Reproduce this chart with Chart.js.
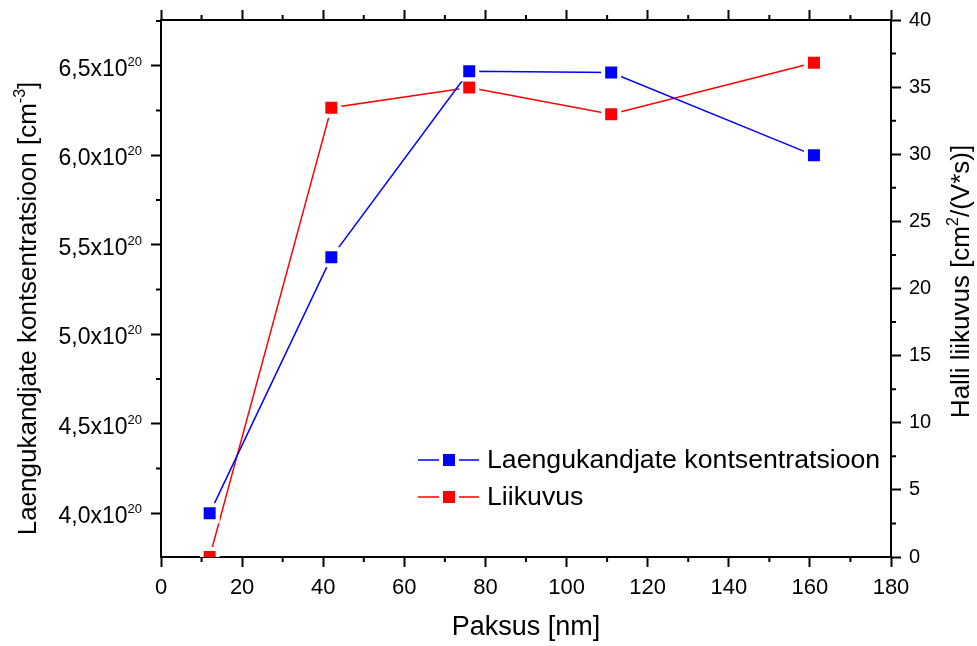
<!DOCTYPE html>
<html>
<head>
<meta charset="utf-8">
<script src="https://cdn.jsdelivr.net/npm/chart.js@4.4.1/dist/chart.umd.min.js"></script>
<style>
  html, body { margin: 0; padding: 0; background: #fff; }
  canvas { display: block; }
</style>
</head>
<body>
<canvas id="graafik" width="977" height="646"></canvas>
<script>
// mõõtmised
const paksus = [12, 42, 76, 111, 161];
const kontsentratsioon = [4.0e20, 5.43e20, 6.47e20, 6.463e20, 6.0e20];
const liikuvus = [0, 33.47, 34.97, 32.98, 36.82];

// telgede jaotised
const xTicks = [0, 20, 40, 60, 80, 100, 120, 140, 160, 180];
const xMinor = [10, 30, 50, 70, 90, 110, 130, 150, 170];
const yTicks = [4.0e20, 4.5e20, 5.0e20, 5.5e20, 6.0e20, 6.5e20];
const yMinor = [4.25e20, 4.75e20, 5.25e20, 5.75e20, 6.25e20, 6.75e20];
const y1Ticks = [0, 5, 10, 15, 20, 25, 30, 35, 40];
const y1Minor = [2.5, 7.5, 12.5, 17.5, 22.5, 27.5, 32.5, 37.5];

const FONT = 'Liberation Sans, Arial, sans-serif';

function setTicks(list) {
    return scale => { scale.ticks = list.map(v => ({ value: v })); };
}

// tekst koos astendajaga: osad [{t, sup}], joondus 'left' | 'center' | 'right'
function richWidth(ctx, parts, size, supSize) {
    let w = 0;
    parts.forEach(p => {
        ctx.font = (p.sup ? supSize : size) + 'px ' + FONT;
        w += ctx.measureText(p.t).width;
    });
    return w;
}
function drawRich(ctx, parts, x, y, align, size, supSize, rise) {
    const w = richWidth(ctx, parts, size, supSize);
    let cx = align === 'center' ? x - w / 2 : align === 'right' ? x - w : x;
    ctx.textBaseline = 'alphabetic';
    ctx.textAlign = 'left';
    parts.forEach(p => {
        ctx.font = (p.sup ? supSize : size) + 'px ' + FONT;
        ctx.fillText(p.t, cx, p.sup ? y - rise : y);
        cx += ctx.measureText(p.t).width;
    });
}

const tickGrid = {
    drawOnChartArea: false,
    drawTicks: true,
    tickLength: 10,
    tickWidth: 2,
    tickColor: '#000'
};
const axisBorder = { color: '#000', width: 2 };

// väikesed jaotised, poole pikkusega
const minorTicks = {
    id: 'minorTicks',
    afterDraw(chart) {
        const ctx = chart.ctx;
        const s = chart.scales;
        const a = chart.chartArea;
        const len = 5;
        ctx.save();
        ctx.strokeStyle = '#000';
        ctx.lineWidth = 2;
        ctx.beginPath();
        xMinor.forEach(v => {
            const px = s.x.getPixelForValue(v);
            ctx.moveTo(px, a.bottom); ctx.lineTo(px, a.bottom + len);
            ctx.moveTo(px, a.top); ctx.lineTo(px, a.top - len);
        });
        yMinor.forEach(v => {
            if (v > s.y.max || v < s.y.min) return;
            const py = s.y.getPixelForValue(v);
            ctx.moveTo(a.left, py); ctx.lineTo(a.left - len, py);
        });
        y1Minor.forEach(v => {
            const py = s.y1.getPixelForValue(v);
            ctx.moveTo(a.right, py); ctx.lineTo(a.right + len, py);
        });
        ctx.stroke();
        ctx.restore();
    }
};

// vasaku telje sildid kujul 6,5x10^20 ja mõlema y-telje pealkirjad
const axisText = {
    id: 'axisText',
    afterDraw(chart) {
        const ctx = chart.ctx;
        const a = chart.chartArea;
        const s = chart.scales;
        ctx.save();
        ctx.fillStyle = '#000';
        yTicks.forEach(v => {
            const py = s.y.getPixelForValue(v);
            const m = (v / 1e20).toFixed(1).replace('.', ',');
            drawRich(ctx, [{ t: m + 'x10' }, { t: '20', sup: true }],
                a.left - 19, py + 10, 'right', 23, 13, 10);
        });

        const mid = (a.top + a.bottom) / 2;
        ctx.save();
        ctx.translate(36, mid + 20);
        ctx.rotate(-Math.PI / 2);
        drawRich(ctx, [{ t: 'Laengukandjate kontsentratsioon [cm' }, { t: '-3', sup: true }, { t: ']' }],
            0, 0, 'center', 26, 16, 11);
        ctx.restore();

        ctx.save();
        ctx.translate(969, mid - 7);
        ctx.rotate(-Math.PI / 2);
        drawRich(ctx, [{ t: 'Halli liikuvus [cm' }, { t: '2', sup: true }, { t: '/(V*s)]' }],
            0, 0, 'center', 26, 16, 11);
        ctx.restore();
        ctx.restore();
    }
};

// legend graafiku sees, paremal all
const insideLegend = {
    id: 'insideLegend',
    afterDraw(chart) {
        const ctx = chart.ctx;
        const a = chart.chartArea;
        const x0 = a.right - 473;
        const rows = [a.bottom - 97, a.bottom - 60];
        ctx.save();
        chart.data.datasets.forEach((ds, i) => {
            const y = rows[i];
            ctx.strokeStyle = ds.borderColor;
            ctx.lineWidth = 1.5;
            ctx.beginPath();
            ctx.moveTo(x0, y); ctx.lineTo(x0 + 21, y);
            ctx.moveTo(x0 + 41, y); ctx.lineTo(x0 + 61, y);
            ctx.stroke();
            ctx.fillStyle = ds.pointBackgroundColor;
            ctx.fillRect(x0 + 25, y - 6, 12, 12);
            ctx.fillStyle = '#000';
            ctx.font = '26.7px ' + FONT;
            ctx.textBaseline = 'middle';
            ctx.textAlign = 'left';
            ctx.fillText(ds.label, x0 + 69, y + 1);
        });
        ctx.restore();
    }
};

const ctx = document.getElementById('graafik').getContext('2d');
const chart = new Chart(ctx, {
    type: 'line',
    data: {
        datasets: [{
            label: 'Laengukandjate kontsentratsioon',
            data: paksus.map((x, i) => ({ x: x, y: kontsentratsioon[i] })),
            xAxisID: 'x',
            yAxisID: 'y',
            borderColor: '#0000ff',
            borderWidth: 1.5,
            pointStyle: 'rect',
            pointRadius: 11.3,
            pointBorderWidth: 4,
            pointBorderColor: '#ffffff',
            pointBackgroundColor: '#0000ff',
            tension: 0
        }, {
            label: 'Liikuvus',
            data: paksus.map((x, i) => ({ x: x, y: liikuvus[i] })),
            xAxisID: 'x',
            yAxisID: 'y1',
            borderColor: '#ff0000',
            borderWidth: 1.5,
            pointStyle: 'rect',
            pointRadius: 11.3,
            pointBorderWidth: 4,
            pointBorderColor: '#ffffff',
            pointBackgroundColor: '#ff0000',
            tension: 0
        }]
    },
    options: {
        responsive: false,
        animation: false,
        events: [],
        layout: { padding: 0 },
        plugins: {
            legend: { display: false },
            tooltip: { enabled: false }
        },
        scales: {
            x: {
                type: 'linear',
                position: 'bottom',
                min: 0,
                max: 180,
                z: 1,
                afterBuildTicks: setTicks(xTicks),
                afterFit: s => { s.height = 89; },
                grid: tickGrid,
                border: axisBorder,
                ticks: {
                    color: '#000',
                    padding: 8,
                    maxRotation: 0,
                    font: { family: FONT, size: 22 }
                },
                title: {
                    display: true,
                    text: 'Paksus [nm]',
                    color: '#000',
                    padding: { top: 0, bottom: 2 },
                    font: { family: FONT, size: 27 }
                }
            },
            x2: {
                type: 'linear',
                position: 'top',
                min: 0,
                max: 180,
                z: 1,
                afterBuildTicks: setTicks(xTicks),
                afterFit: s => { s.height = 20; },
                grid: tickGrid,
                border: axisBorder,
                ticks: { display: false }
            },
            y: {
                type: 'linear',
                position: 'left',
                min: 3.756e20,
                max: 6.756e20,
                z: 1,
                afterBuildTicks: setTicks(yTicks),
                afterFit: s => { s.width = 161; },
                grid: tickGrid,
                border: axisBorder,
                ticks: { display: false }
            },
            y1: {
                type: 'linear',
                position: 'right',
                min: 0,
                max: 40,
                z: 1,
                afterBuildTicks: setTicks(y1Ticks),
                afterFit: s => { s.width = 86; },
                grid: tickGrid,
                border: axisBorder,
                ticks: {
                    color: '#000',
                    padding: 8,
                    font: { family: FONT, size: 20 }
                }
            }
        }
    },
    plugins: [minorTicks, axisText, insideLegend]
});
</script>
</body>
</html>
